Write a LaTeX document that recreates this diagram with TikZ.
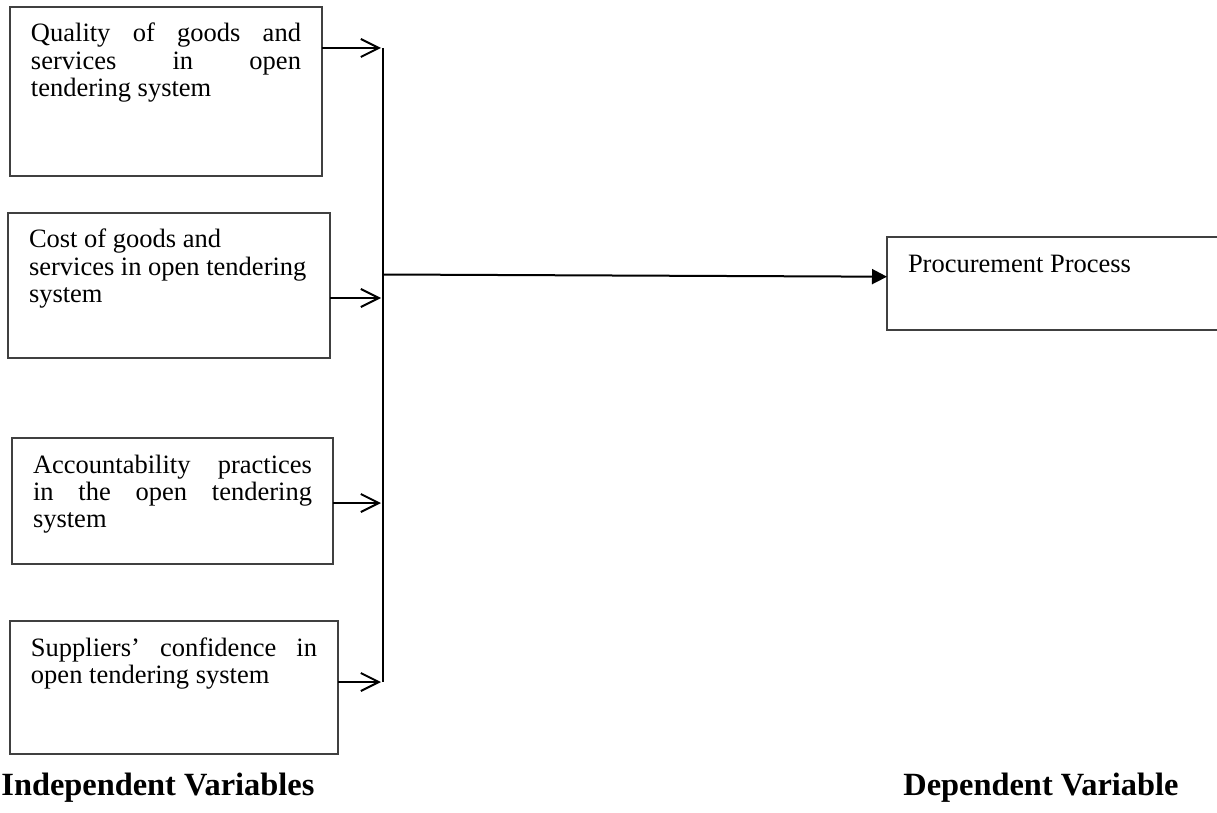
\documentclass[tikz,border=0pt]{standalone}
\usepackage{fontspec}
\setmainfont{Liberation Serif}
\usepackage{xcolor}
\usetikzlibrary{arrows.meta, positioning}
\definecolor{BoxEdge}{HTML}{404040}
\newcommand{\boxtext}[3]{\parbox[t][#1][t]{#2}{\rule{0pt}{17.5pt}#3}}

\begin{document}
\begin{tikzpicture}[
    x=0.5pt, y=-0.5pt,
    varbox/.style={draw=BoxEdge, line width=0.7pt, anchor=north west, inner xsep=10.5pt, inner ysep=0pt, outer sep=0pt, font=\fontsize{13.25}{13.6}\selectfont, execute at begin node={\hyphenpenalty=10000 \exhyphenpenalty=10000 \tolerance=10000 \hbadness=10000}},
    feedarrow/.style={-{Straight Barb[length=9pt, width=9pt]}, line width=1pt},
    mainarrow/.style={-{Triangle[length=7.5pt, width=7.5pt]}, line width=1pt},
    heading/.style={anchor=base west, inner sep=0pt, font=\fontsize{16.2}{18}\selectfont\bfseries}
]
\useasboundingbox (0,0) rectangle (1217,813);

% Independent variable boxes (left column)
\node[varbox] (qual) at (10,7) {\boxtext{84.5pt}{135pt}{Quality of goods and\linebreak services in open\linebreak tendering system}};
\node[varbox] (cost) at (8,213) {\boxtext{72.5pt}{140pt}{\raggedright Cost of goods and\\services in open tendering\\system}};
\node[varbox] (acct) at (12,438) {\boxtext{63pt}{139.5pt}{Accountability practices\linebreak in the open tendering\linebreak system}};
\node[varbox] (supp) at (10,621) {\boxtext{66.5pt}{143pt}{Suppliers' confidence in\linebreak open tendering system}};

% Dependent variable box (runs off the right edge)
\node[varbox] (proc) at (887,237) {\boxtext{46.5pt}{149pt}{\raggedright Procurement Process}};

% Collecting line
\coordinate (bustop) at (383,48);
\coordinate (busbot) at (383,682);
\coordinate (hub) at (383,274.5);
\coordinate (in1) at (381,48);
\coordinate (in2) at (381,298);
\coordinate (in3) at (381,503);
\coordinate (in4) at (381,682);
\draw[line width=1pt] (bustop) -- (busbot);

% Inputs to the collecting line
\draw[feedarrow] (qual.east |- in1) -- (in1);
\draw[feedarrow] (cost.east |- in2) -- (in2);
\draw[feedarrow] (acct.east |- in3) -- (in3);
\draw[feedarrow] (supp.east |- in4) -- (in4);

% Output to the dependent variable
\draw[mainarrow] (hub) -- (proc.west |- 0,276.7);

% Column headings
\node[heading] (indep) at (1,795) {Independent Variables};
\node[heading] (dep) at (903,795) {Dependent Variable};

\end{tikzpicture}
\end{document}
